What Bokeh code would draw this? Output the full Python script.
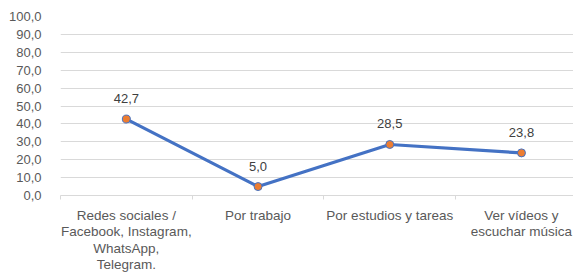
from bokeh.plotting import figure
from bokeh.models import Range1d, FixedTicker, ColumnDataSource
from bokeh.core.properties import value
from bokeh.embed import file_html
from bokeh.resources import INLINE

categories = ["Redes sociales /\nFacebook, Instagram,\nWhatsApp,\nTelegram.",
              "Por trabajo",
              "Por estudios y tareas",
              "Ver vídeos y\nescuchar música"]
values = [42.7, 5.0, 28.5, 23.8]
y_ticks = [0, 10, 20, 30, 40, 50, 60, 70, 80, 90, 100]

FONT = "Liberation Sans"
xs = list(range(len(categories)))
labels = [f"{v:.1f}".replace(".", ",") for v in values]
src = ColumnDataSource(dict(x=xs, y=values, label=labels))

p = figure(frame_width=513, frame_height=179, output_backend="svg", toolbar_location=None,
           x_range=Range1d(-0.5, 3.395), y_range=Range1d(0, 100),
           min_border_left=60, min_border_right=0, min_border_top=16, min_border_bottom=70)
p.outline_line_color = None
p.background_fill_color = "white"
p.border_fill_color = "white"

p.line("x", "y", source=src, line_color="#4472C4", line_width=3.2)
p.scatter("x", "y", source=src, size=8, fill_color="#ED7D31", line_color="#4472C4", line_width=1)
p.text("x", "y", text="label", source=src, y_offset=-16, text_align="center", text_baseline="bottom",
       text_font=value(FONT), text_font_size="13px", text_color="#404040")

p.xaxis.ticker = FixedTicker(ticks=xs, minor_ticks=[-0.5, 0.5, 1.5, 2.5, 3.5])
p.xaxis.major_label_overrides = {i: c for i, c in enumerate(categories)}
p.xaxis.major_tick_line_color = None
p.xaxis.minor_tick_line_color = "#d9d9d9"
p.xaxis.minor_tick_in = 0
p.xaxis.minor_tick_out = 4
p.xaxis.axis_line_color = "#d9d9d9"
p.xaxis.major_label_standoff = 6
p.xaxis.major_label_text_font = FONT
p.xaxis.major_label_text_font_size = "13.5px"
p.xaxis.major_label_text_color = "#595959"
p.xaxis.major_label_text_align = "center"
p.xaxis.major_label_text_baseline = "top"
p.xaxis.major_label_text_line_height = 1.1

p.yaxis.ticker = FixedTicker(ticks=y_ticks)
p.yaxis.major_label_overrides = {t: f"{t:.1f}".replace(".", ",") for t in y_ticks}
p.yaxis.axis_line_color = None
p.yaxis.major_tick_line_color = None
p.yaxis.minor_tick_line_color = None
p.yaxis.major_label_standoff = 13
p.yaxis.major_label_text_font = FONT
p.yaxis.major_label_text_font_size = "13px"
p.yaxis.major_label_text_color = "#595959"

p.xgrid.grid_line_color = None
p.ygrid.grid_line_color = "#d9d9d9"
p.ygrid.grid_line_width = 1

open("out.html", "w").write(file_html(p, INLINE))
